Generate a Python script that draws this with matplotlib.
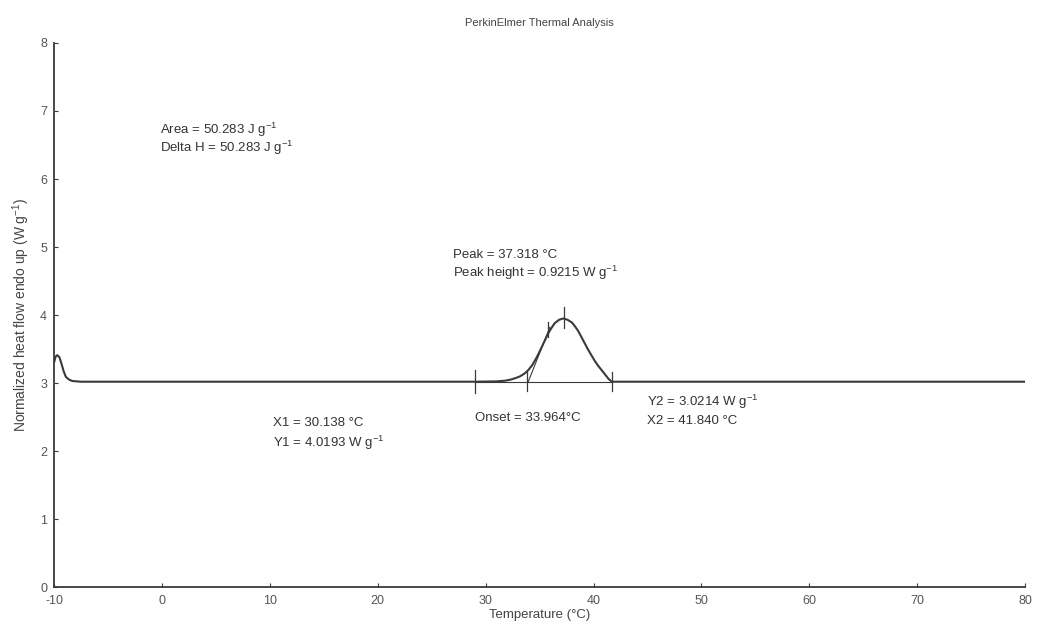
"""
DSC trace - PerkinElmer thermal analysis, normalized heat flow vs temperature.
"""

import matplotlib
matplotlib.use("Agg")
import matplotlib.pyplot as plt
import numpy as np

matplotlib.rcParams.update({
    "font.family": ["Liberation Sans", "DejaVu Sans"],
    "mathtext.default": "regular",
    "axes.unicode_minus": False,
    "font.size": 10,
})

INK = "#3a3a3a"

# (temperature in degC, heat flow in W/g)
TEMP = [-10.0, -9.85, -9.7, -9.5, -9.3, -9.1, -8.9, -8.6, -8.3, -7.5, 0.0, 10.0,
        20.0, 29.0, 31.0, 31.8, 32.3, 32.8, 33.2, 33.6, 33.95, 34.3, 34.6, 34.9,
        35.2, 35.5, 35.8, 36.1, 36.4, 36.8, 37.2, 37.6, 38.0, 38.3, 38.6, 38.9,
        39.2, 39.5, 39.8, 40.1, 40.4, 40.8, 41.1, 41.4, 41.7, 45.0, 50.0, 60.0,
        70.0, 80.0]
HEAT = [3.30, 3.39, 3.41, 3.38, 3.28, 3.17, 3.09, 3.05, 3.03, 3.02, 3.02, 3.02,
        3.02, 3.02, 3.025, 3.035, 3.05, 3.075, 3.10, 3.14, 3.19, 3.26, 3.34, 3.43,
        3.53, 3.63, 3.73, 3.81, 3.88, 3.93, 3.95, 3.93, 3.89, 3.83, 3.76, 3.67,
        3.58, 3.49, 3.41, 3.33, 3.26, 3.18, 3.12, 3.06, 3.02, 3.02, 3.02, 3.02,
        3.02, 3.02]

# Analysis marks: (temperature, y-from, y-to)
MARKS = [(29.0, 2.85, 3.19), (33.85, 2.88, 3.17), (41.7, 2.88, 3.17),
         (37.25, 3.81, 4.12), (35.8, 3.68, 3.90)]
ONSET_LINE_T = [33.95, 35.95]
ONSET_LINE_Q = [3.02, 3.82]

X_TICKS = [-10, 0, 10, 20, 30, 40, 50, 60, 70, 80]
Y_TICKS = [0, 1, 2, 3, 4, 5, 6, 7, 8]


def main():
    fig = plt.figure(figsize=(10.45, 6.32), dpi=100)
    ax = fig.add_axes([0.0517, 0.071, 0.9293, 0.861])

    ax.plot(TEMP, HEAT, color=INK, lw=1.5, solid_capstyle="round")
    ax.plot(ONSET_LINE_T, ONSET_LINE_Q, color=INK, lw=0.8)
    ax.plot([29.0, 41.7], [3.02, 3.02], color=INK, lw=0.8)
    for t, y0, y1 in MARKS:
        ax.plot([t, t], [y0, y1], color=INK, lw=0.9)

    ax.set_xlim(-10, 80)
    ax.set_ylim(0, 8)
    ax.set_xticks(X_TICKS)
    ax.set_yticks(Y_TICKS)
    for side in ("top", "right"):
        ax.spines[side].set_visible(False)
    for side in ("left", "bottom"):
        ax.spines[side].set_color(INK)
        ax.spines[side].set_linewidth(1.3)
    ax.tick_params(direction="in", length=3, colors=INK, labelsize=9,
                   labelcolor="#555555")
    ax.tick_params(axis="x", pad=6)
    ax.tick_params(axis="y", pad=5)

    ax.set_xlabel("Temperature (°C)", color="#444444", fontsize=9.5, labelpad=1)
    ax.set_ylabel("Normalized heat flow endo up (W g$^{-1}$)", color="#444444",
                  fontsize=10, labelpad=6)
    ax.set_title("PerkinElmer Thermal Analysis", color="#444444", fontsize=8,
                 pad=12)

    kw = dict(color="#333333", fontsize=9.5, va="center", ha="left")
    ax.text(-0.2, 6.72, "Area = 50.283 J g$^{-1}$", **kw)
    ax.text(-0.2, 6.46, "Delta H = 50.283 J g$^{-1}$", **kw)
    ax.text(27.0, 4.88, "Peak = 37.318 °C", **kw)
    ax.text(27.0, 4.62, "Peak height = 0.9215 W g$^{-1}$", **kw)
    ax.text(10.3, 2.41, "X1 = 30.138 °C", **kw)
    ax.text(10.3, 2.12, "Y1 = 4.0193 W g$^{-1}$", **kw)
    ax.text(29.0, 2.49, "Onset = 33.964°C", **kw)
    ax.text(45.0, 2.72, "Y2 = 3.0214 W g$^{-1}$", **kw)
    ax.text(45.0, 2.44, "X2 = 41.840 °C", **kw)

    fig.savefig("out.png", dpi=100)
    plt.close(fig)


if __name__ == "__main__":
    main()
